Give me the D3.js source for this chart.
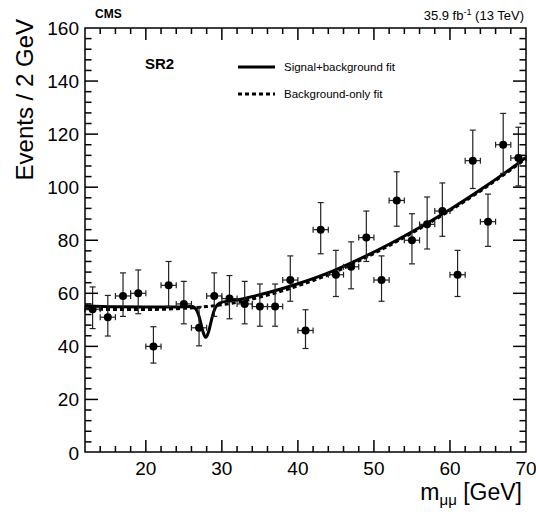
<!DOCTYPE html>
<html lang="en">
<head>
  <meta charset="UTF-8">
  <title>SR2 dimuon mass fit</title>
  <script src="https://d3js.org/d3.v7.min.js"></script>
  <style>
    body {
      margin: 0;
      background: #fff;
      font-family: "Liberation Sans", Arial, sans-serif;
    }
  </style>
</head>
<body>
  <div id="chart"></div>

  <script>
    // bin centres (GeV) and observed events per 2 GeV
    const massBins = [13, 15, 17, 19, 21, 23, 25, 27, 29, 31, 33, 35, 37, 39, 41,
                      43, 45, 47, 49, 51, 53, 55, 57, 59, 61, 63, 65, 67, 69];
    const events = [54, 51, 59, 60, 40, 63, 56, 47, 59, 58, 56, 55, 55, 65, 46,
                    84, 67, 70, 81, 65, 95, 80, 86, 91, 67, 110, 87, 116, 111];
    const errLow = [7.3, 7.1, 7.7, 7.7, 6.3, 7.9, 7.5, 6.8, 7.7, 7.6, 7.5, 7.4, 7.4, 8.0, 6.8,
                    9.1, 8.2, 8.3, 9.0, 8.0, 9.7, 8.9, 9.3, 9.5, 8.2, 10.5, 9.3, 10.8, 10.5];
    const errHigh = [8.4, 8.2, 8.7, 8.8, 7.4, 9.0, 8.5, 7.9, 8.7, 8.7, 8.5, 8.5, 8.5, 9.1, 7.8,
                     10.2, 9.2, 9.4, 10.0, 9.1, 10.8, 10.0, 10.3, 10.6, 9.2, 11.5, 10.4, 11.8, 11.6];

    // background-only fit (dashed)
    const bkgMass = [12, 16, 20, 24, 28, 32, 36, 40, 44, 48, 52, 56, 60, 64, 68, 70];
    const bkgFit = [54.2, 53.9, 53.9, 54.2, 55.0, 56.6, 59.3, 62.8, 67.0, 72.2, 78.0, 84.4, 91.2, 98.6, 106.6, 110.8];

    // signal+background fit (solid)
    const sbMass = [12, 16, 20, 24, 26.1, 26.7, 27.0, 27.3, 27.6, 27.9, 28.2, 28.5, 28.8, 29.1, 29.7,
                    31, 32, 36, 40, 44, 48, 52, 56, 60, 64, 68, 70];
    const sbFit = [55.3, 54.9, 54.8, 54.8, 55.0, 53.5, 51.3, 48.0, 44.8, 43.4, 45.0, 48.3, 51.8, 54.3, 56.3,
                   57.2, 57.6, 60.2, 63.6, 67.7, 72.8, 78.5, 84.8, 91.6, 99.0, 107.0, 111.2];

    const xTicks = [20, 30, 40, 50, 60, 70];
    const yTicks = [0, 20, 40, 60, 80, 100, 120, 140, 160];

    const width = 536, height = 512;
    const margin = { top: 28, right: 10, bottom: 60, left: 85 };
    const x0 = margin.left, x1 = width - margin.right;
    const y0 = height - margin.bottom, y1 = margin.top;

    const svg = d3.select("#chart")
      .append("svg")
      .attr("width", width)
      .attr("height", height)
      .style("font-family", "'Liberation Sans', Arial, sans-serif");

    const x = d3.scaleLinear().domain([12, 70]).range([x0, x1]);
    const y = d3.scaleLinear().domain([0, 160]).range([y0 + 0.5, y1]);

    svg.append("clipPath").attr("id", "frame")
      .append("rect")
      .attr("x", x0).attr("y", y1)
      .attr("width", x1 - x0).attr("height", y0 - y1);

    // fit curves
    const line = d3.line()
      .x(d => x(d[0]))
      .y(d => y(d[1]))
      .curve(d3.curveMonotoneX);

    const curves = svg.append("g").attr("clip-path", "url(#frame)");
    curves.append("path")
      .datum(bkgMass.map((m, i) => [m, bkgFit[i]]))
      .attr("d", line)
      .attr("fill", "none")
      .attr("stroke", "#000")
      .attr("stroke-width", 3)
      .attr("stroke-dasharray", "4,3");
    curves.append("path")
      .datum(sbMass.map((m, i) => [m, sbFit[i]]))
      .attr("d", line)
      .attr("fill", "none")
      .attr("stroke", "#000")
      .attr("stroke-width", 3);

    // data points with error bars
    const pts = svg.append("g")
      .selectAll("g")
      .data(massBins.map((m, i) => ({ m, n: events[i], lo: errLow[i], hi: errHigh[i] })))
      .enter()
      .append("g")
      .attr("stroke", "#222")
      .attr("stroke-width", 1.2);

    pts.append("line")
      .attr("x1", d => x(d.m)).attr("x2", d => x(d.m))
      .attr("y1", d => y(d.n - d.lo)).attr("y2", d => y(d.n + d.hi));
    pts.append("line")
      .attr("x1", d => x(d.m - 1)).attr("x2", d => x(d.m + 1))
      .attr("y1", d => y(d.n)).attr("y2", d => y(d.n));
    pts.append("line")
      .attr("x1", d => x(d.m) - 3).attr("x2", d => x(d.m) + 3)
      .attr("y1", d => y(d.n + d.hi)).attr("y2", d => y(d.n + d.hi));
    pts.append("line")
      .attr("x1", d => x(d.m) - 3).attr("x2", d => x(d.m) + 3)
      .attr("y1", d => y(d.n - d.lo)).attr("y2", d => y(d.n - d.lo));
    pts.append("line")
      .attr("x1", d => x(d.m - 1)).attr("x2", d => x(d.m - 1))
      .attr("y1", d => y(d.n) - 3).attr("y2", d => y(d.n) + 3);
    pts.append("line")
      .attr("x1", d => x(d.m + 1)).attr("x2", d => x(d.m + 1))
      .attr("y1", d => y(d.n) - 3).attr("y2", d => y(d.n) + 3);
    pts.append("circle")
      .attr("cx", d => x(d.m))
      .attr("cy", d => y(d.n))
      .attr("r", 4)
      .attr("fill", "#000")
      .attr("stroke", "none");

    // axes: ROOT-style inward ticks on all four sides
    const frame = svg.append("g").attr("stroke", "#000").attr("stroke-width", 1.5);
    frame.append("rect")
      .attr("x", x0).attr("y", y1)
      .attr("width", x1 - x0).attr("height", y0 - y1)
      .attr("fill", "none");

    const xMinor = d3.range(14, 70, 2);
    xMinor.forEach(v => {
      const big = v % 10 === 0;
      const len = big ? 12 : 6;
      frame.append("line").attr("x1", x(v)).attr("x2", x(v)).attr("y1", y0).attr("y2", y0 - len);
      frame.append("line").attr("x1", x(v)).attr("x2", x(v)).attr("y1", y1).attr("y2", y1 + len);
    });
    const yMinor = d3.range(4, 160, 4);
    yMinor.forEach(v => {
      const big = v % 20 === 0;
      const len = big ? 13 : 6.5;
      frame.append("line").attr("x1", x0).attr("x2", x0 + len).attr("y1", y(v)).attr("y2", y(v));
      frame.append("line").attr("x1", x1).attr("x2", x1 - len).attr("y1", y(v)).attr("y2", y(v));
    });

    svg.append("g")
      .selectAll("text")
      .data(xTicks)
      .enter()
      .append("text")
      .attr("x", d => x(d))
      .attr("y", y0 + 23)
      .attr("text-anchor", "middle")
      .style("font-size", "19px")
      .text(d => d);

    svg.append("g")
      .selectAll("text")
      .data(yTicks)
      .enter()
      .append("text")
      .attr("x", x0 - 6)
      .attr("y", d => y(d) + 7)
      .attr("text-anchor", "end")
      .style("font-size", "19px")
      .text(d => d);

    // axis titles
    svg.append("text")
      .attr("transform", `translate(33,19) rotate(-90)`)
      .attr("text-anchor", "end")
      .style("font-size", "24px")
      .text("Events / 2 GeV");

    const xt = svg.append("text")
      .attr("x", x1 - 4)
      .attr("y", 500)
      .attr("text-anchor", "end")
      .style("font-size", "23px");
    xt.append("tspan").text("m");
    xt.append("tspan").attr("dy", 5).style("font-size", "15px").text("\u03bc\u03bc");
    xt.append("tspan").attr("dy", -5).text(" [GeV]");

    // header
    svg.append("text")
      .attr("x", 95).attr("y", 18)
      .style("font-size", "12px")
      .style("font-weight", "bold")
      .text("CMS");

    const lumi = svg.append("text")
      .attr("x", x1 - 2).attr("y", 20)
      .attr("text-anchor", "end")
      .style("font-size", "13px");
    lumi.append("tspan").text("35.9 fb");
    lumi.append("tspan").attr("dy", -5).style("font-size", "9px").text("-1");
    lumi.append("tspan").attr("dy", 5).text(" (13 TeV)");

    svg.append("text")
      .attr("x", 145).attr("y", 69)
      .style("font-size", "15px")
      .style("font-weight", "bold")
      .text("SR2");

    // legend
    const legend = [
      { label: "Signal+background fit", dash: null, yy: 67 },
      { label: "Background-only fit", dash: "4,3", yy: 94 }
    ];
    legend.forEach(l => {
      svg.append("line")
        .attr("x1", 238).attr("x2", 275)
        .attr("y1", l.yy).attr("y2", l.yy)
        .attr("stroke", "#000")
        .attr("stroke-width", 3)
        .attr("stroke-dasharray", l.dash);
      svg.append("text")
        .attr("x", 284).attr("y", l.yy + 4)
        .style("font-size", "11.5px")
        .text(l.label);
    });
  </script>
</body>
</html>
